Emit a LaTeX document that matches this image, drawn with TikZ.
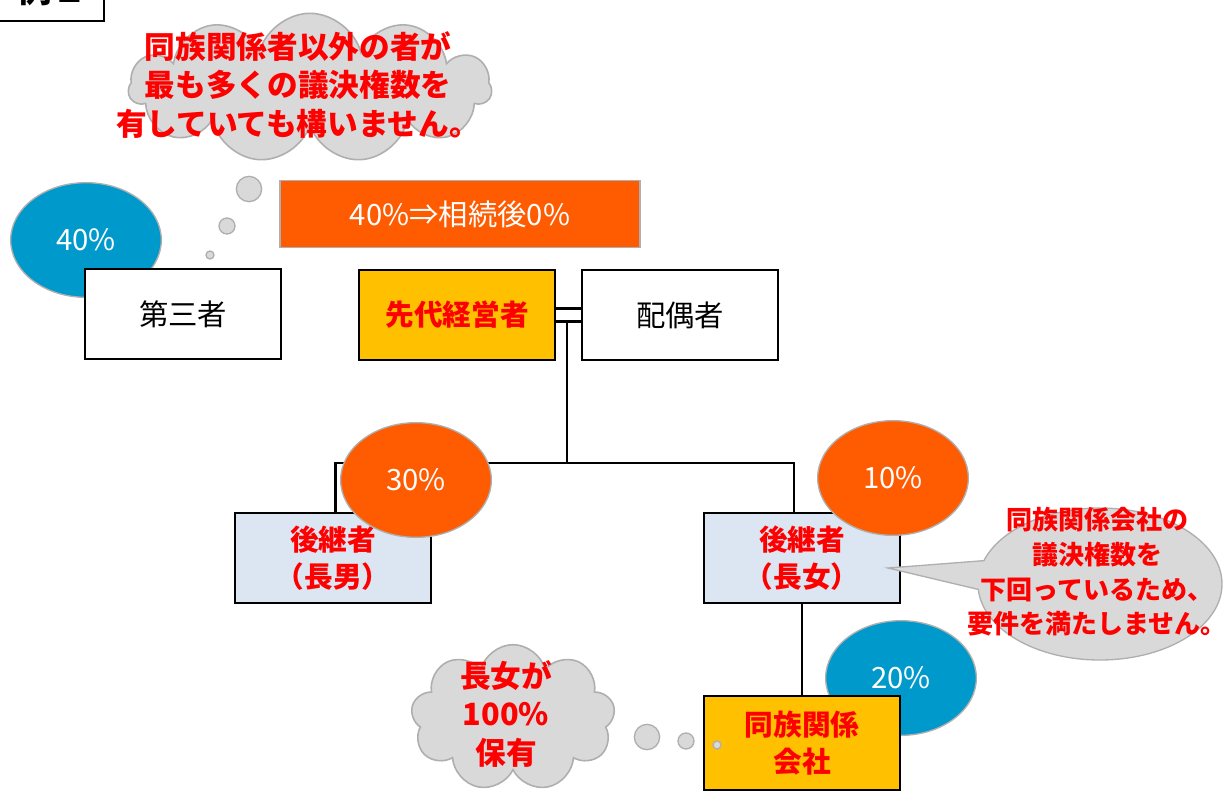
\documentclass[tikz,border=0pt]{standalone}
\usepackage{fontspec}
\setmainfont{Noto Sans CJK JP}
\usetikzlibrary{shapes.geometric,shapes.symbols,shapes.callouts}
\definecolor{myorange}{RGB}{255,91,0}
\definecolor{myblue}{RGB}{0,153,204}
\definecolor{mygold}{RGB}{255,192,0}
\definecolor{mylight}{RGB}{220,230,242}
\definecolor{mygray}{RGB}{217,217,217}
\definecolor{myedge}{RGB}{175,175,175}
\definecolor{myred}{RGB}{255,0,0}
\tikzset{
  famebox/.style={draw=black, line width=1.5pt, minimum width=147pt, minimum height=68pt,
    inner sep=0pt, align=center, font=\fontsize{22}{28}\selectfont},
  redbold/.style={text=myred, font=\bfseries\fontsize{21.5}{28}\selectfont},
  pct/.style={ellipse, draw=myedge, line width=1pt, minimum width=113pt, minimum height=86pt,
    inner sep=0pt, text=white, font=\fontsize{22}{24}\selectfont},
  link/.style={line width=2.2pt, black},
  cloudshape/.style={cloud, cloud ignores aspect, draw=myedge, fill=mygray, line width=1.2pt, inner sep=0pt},
  bubble/.style={circle, draw=myedge, fill=mygray, line width=1pt, inner sep=0pt},
  cloudtext/.style={text=myred, align=center, font=\bfseries\fontsize{23}{29}\selectfont},
}
\begin{document}
\begin{tikzpicture}[x=0.75pt, y=-0.75pt]
\useasboundingbox (0,0) rectangle (1227,793);

% title box (cut off at the top edge, as in the reference)
\node[draw=black, line width=1.2pt, minimum width=86pt, minimum height=45pt, inner sep=0pt,
  anchor=south east] (title) at (105,22) {};
\node[font=\bfseries\fontsize{26}{28}\selectfont, anchor=base] (titletext) at (52,2) {例２};

% connectors
\coordinate (junction) at (567,463);
\node[famebox, fill=mygold] (sendai) at (457,315) {};
\node[famebox] (spouse) at (680,315) {};
\node[famebox, fill=mylight] (chonan) at (333,558) {};
\node[famebox, fill=mylight] (chojo) at (802,558) {};
\node[famebox, fill=mygold, minimum height=70pt] (company) at (802,743) {};
\draw[link] ([yshift=4.9pt]sendai.east) -- ([yshift=4.9pt]spouse.west);
\draw[link] ([yshift=-4.9pt]sendai.east) -- ([yshift=-4.9pt]spouse.west);
\draw[link] ([yshift=-4.9pt]sendai.east -| junction) -- (junction);
\draw[link] ([xshift=2pt]chonan.north) |- (junction) -| ([xshift=-6pt]chojo.north);
\draw[link] (chojo.south) -- (company.north);

% third party
\node[pct, fill=myblue] (p40) at (86,240) {40\%};
\node[famebox, fill=white] (third) at (183,314) {第三者};

% orange note
\node[draw=myedge, line width=1pt, fill=myorange, minimum width=270pt, minimum height=50pt,
  inner sep=0pt, text=white, font=\fontsize{22}{24}\selectfont] (note) at (460,214) {40\%⇒相続後0\%};

% family boxes
\node[famebox, fill=mygold, redbold] (sendaiT) at (sendai) {先代経営者};
\node[famebox, fill=white] (spouseT) at (spouse) {配偶者};
\node[famebox, fill=mylight, redbold, align=center] (chonanT) at (chonan) {後継者\\（長男）};
\node[pct, fill=myorange] (p30) at (416,480) {30\%};
\node[famebox, fill=mylight, redbold, align=center] (chojoT) at (chojo) {後継者\\（長女）};
\node[pct, fill=myorange] (p10) at (893,478) {10\%};
\node[pct, fill=myblue] (p20) at (901,678) {20\%};
\node[famebox, fill=mygold, redbold, align=center, minimum height=70pt] (companyT) at (company) {同族関係\\会社};

% callout
\coordinate (tip) at (888,568);
\node[ellipse callout, callout absolute pointer={(tip)}, callout pointer arc=22,
  draw=myedge, fill=mygray, line width=1pt, minimum width=183pt, minimum height=114pt,
  inner sep=0pt] (callout) at (1100,584) {};
\node[text=myred, align=center, font=\bfseries\fontsize{19.5}{26}\selectfont] (calloutT) at (1097,572)
  {同族関係会社の\\議決権数を\\下回っているため、\\要件を満たしません。};

% top cloud
\node[cloudshape, cloud puffs=11, minimum width=272pt, minimum height=112pt] (cloudA) at (310,88) {};
\node[cloudtext] (cloudAT) at (298,85) {同族関係者以外の者が\\最も多くの議決権数を\\有していても構いません。};
\node[bubble, minimum size=19pt] (bA1) at (249,189) {};
\node[bubble, minimum size=12pt] (bA2) at (227,226) {};
\node[bubble, minimum size=6pt] (bA3) at (210,255) {};

% bottom cloud
\node[cloudshape, cloud puffs=9, minimum width=153pt, minimum height=110pt] (cloudB) at (513,718) {};
\node[cloudtext] (cloudBT) at (506,714) {長女が\\100\%\\保有};
\node[bubble, minimum size=19pt] (bB1) at (647,737) {};
\node[bubble, minimum size=12pt] (bB2) at (686,741) {};
\node[bubble, minimum size=6pt] (bB3) at (717,745) {};
\end{tikzpicture}
\end{document}
